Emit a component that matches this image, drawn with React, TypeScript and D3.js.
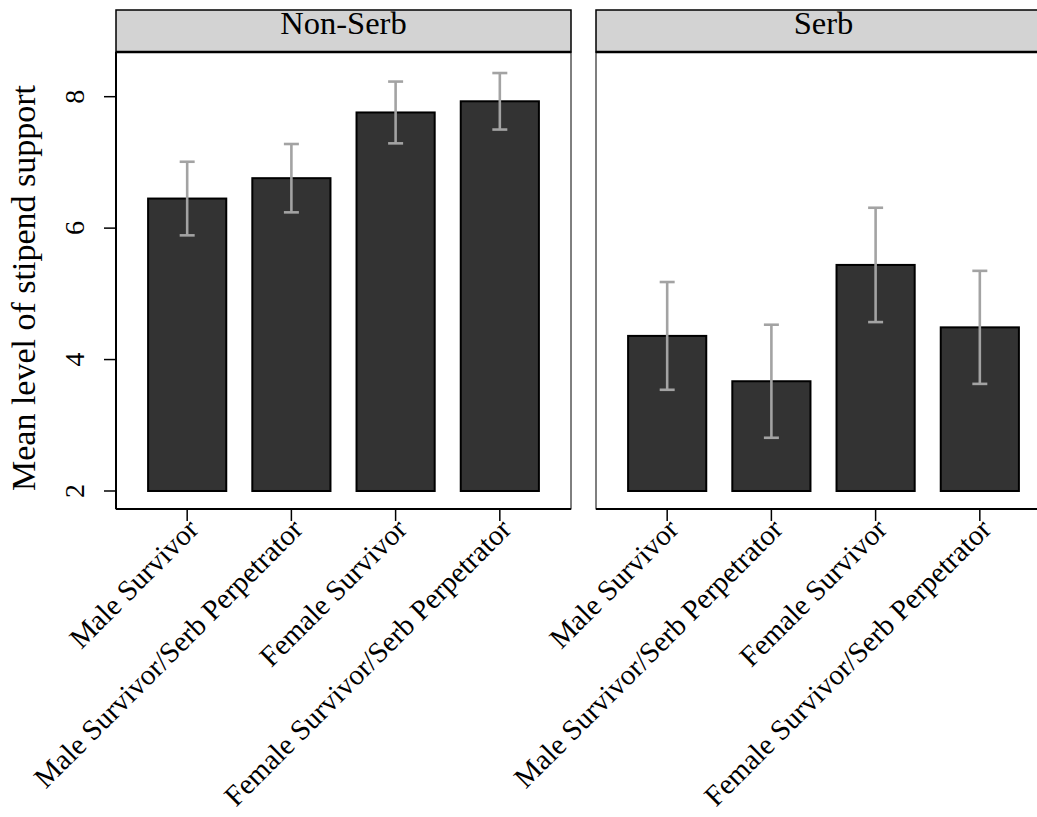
import React from "react";
import * as d3 from "d3";

const categories = [
  "Male Survivor",
  "Male Survivor/Serb Perpetrator",
  "Female Survivor",
  "Female Survivor/Serb Perpetrator",
];
const panels = ["Non-Serb", "Serb"];
const nonSerbMeans = [6.45, 6.76, 7.76, 7.93];
const nonSerbErr = [0.56, 0.52, 0.47, 0.43];
const serbMeans = [4.36, 3.67, 5.44, 4.49];
const serbErr = [0.82, 0.86, 0.87, 0.86];
const yTicks = [2, 4, 6, 8];
const yTitle = "Mean level of stipend support";

const W = 1037;
const H = 817;
const FONT = "'Liberation Serif', 'Times New Roman', Times, serif";

export default function App() {
  const panelW = 455;
  const panelXs = [116, 596];
  const stripTop = 10;
  const top = 52;
  const bottom = 509;
  const y = d3.scaleLinear().domain([1.726, 8.68]).range([bottom, top]);
  const means = [nonSerbMeans, serbMeans];
  const errs = [nonSerbErr, serbErr];

  return (
    <svg
      width={W}
      height={H}
      style={{ position: "absolute", left: 0, top: 0, background: "#fff" }}
      fontFamily={FONT}
    >
      <rect x={0} y={0} width={W} height={H} fill="#fff" />
      {/* y axis title */}
      <text
        transform={`translate(35, 288) rotate(-90)`}
        textAnchor="middle"
        fontSize={34}
        fill="#000"
      >
        {yTitle}
      </text>
      {/* y ticks */}
      {yTicks.map((t) => (
        <g key={t}>
          <line x1={104} x2={116} y1={y(t)} y2={y(t)} stroke="#000" strokeWidth={1.5} />
          <text
            transform={`translate(84, ${y(t)}) rotate(-90)`}
            textAnchor="middle"
            fontSize={28}
            fill="#000"
          >
            {t}
          </text>
        </g>
      ))}
      {panels.map((p, pi) => {
        const x0 = panelXs[pi];
        const x = d3
          .scalePoint<string>()
          .domain(categories)
          .range([x0, x0 + panelW])
          .padding(0.683);
        const bw = x.step() * 0.75;
        return (
          <g key={p}>
            {/* strip */}
            <rect
              x={x0}
              y={stripTop}
              width={panelW}
              height={top - stripTop}
              fill="#d3d3d3"
              stroke="#000"
              strokeWidth={1.5}
            />
            <text
              x={x0 + panelW / 2}
              y={33.5}
              textAnchor="middle"
              fontSize={32.5}
              fill="#000"
            >
              {p}
            </text>
            {/* panel border */}
            <rect
              x={x0}
              y={top}
              width={panelW}
              height={bottom - top}
              fill="#fff"
              stroke="#000"
              strokeWidth={1}
            />
            {/* bars */}
            {categories.map((c, i) => (
              <rect
                key={c}
                x={(x(c) as number) - bw / 2}
                y={y(means[pi][i])}
                width={bw}
                height={y(2) - y(means[pi][i])}
                fill="#333333"
                stroke="#000"
                strokeWidth={2}
              />
            ))}
            {/* error bars */}
            {categories.map((c, i) => {
              const cx = x(c) as number;
              const hi = y(means[pi][i] + errs[pi][i]);
              const lo = y(means[pi][i] - errs[pi][i]);
              return (
                <g key={c} stroke="#a3a3a3" strokeWidth={2.6}>
                  <line x1={cx} x2={cx} y1={hi} y2={lo} />
                  <line x1={cx - 7.5} x2={cx + 7.5} y1={hi} y2={hi} />
                  <line x1={cx - 7.5} x2={cx + 7.5} y1={lo} y2={lo} />
                </g>
              );
            })}
            {/* axis lines */}
            <line x1={x0} x2={x0 + panelW} y1={bottom} y2={bottom} stroke="#000" strokeWidth={2} />
            {pi === 0 && (
              <line x1={x0} x2={x0} y1={top} y2={bottom} stroke="#000" strokeWidth={2} />
            )}
            <line x1={x0} x2={x0 + panelW} y1={top} y2={top} stroke="#000" strokeWidth={2.5} />
            {/* x ticks and labels */}
            {categories.map((c) => {
              const cx = x(c) as number;
              return (
                <g key={c}>
                  <line x1={cx} x2={cx} y1={bottom} y2={521} stroke="#000" strokeWidth={1.5} />
                  <text
                    transform={`translate(${cx + 13}, ${531}) rotate(-45)`}
                    textAnchor="end"
                    fontSize={29}
                    fill="#000"
                  >
                    {c}
                  </text>
                </g>
              );
            })}
          </g>
        );
      })}
    </svg>
  );
}
